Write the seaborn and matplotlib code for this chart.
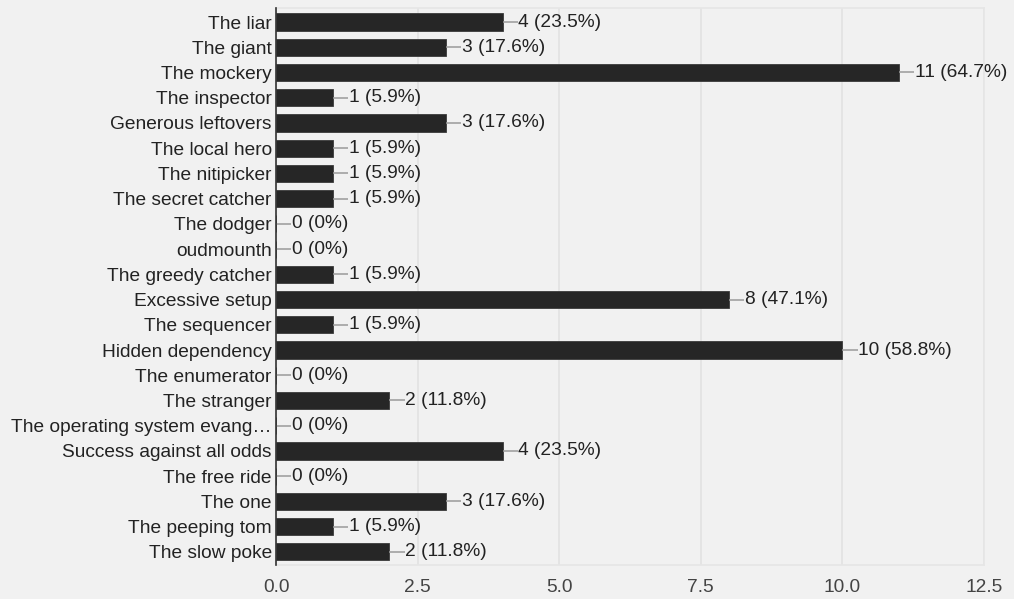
import matplotlib
matplotlib.use("Agg")
import matplotlib.pyplot as plt
import seaborn as sns
import pandas as pd

categories = [
    "The liar", "The giant", "The mockery", "The inspector", "Generous leftovers",
    "The local hero", "The nitipicker", "The secret catcher", "The dodger", "oudmounth",
    "The greedy catcher", "Excessive setup", "The sequencer", "Hidden dependency",
    "The enumerator", "The stranger", "The operating system evang\u2026",
    "Success against all odds", "The free ride", "The one", "The peeping tom",
    "The slow poke",
]
counts = [4, 3, 11, 1, 3, 1, 1, 1, 0, 0, 1, 8, 1, 10, 0, 2, 0, 4, 0, 3, 1, 2]
respondents = 17
x_ticks = [0.0, 2.5, 5.0, 7.5, 10.0, 12.5]

df = pd.DataFrame({"category": categories, "count": counts})

sns.set_theme(style="white")
plt.rcParams["font.family"] = ["Liberation Sans", "DejaVu Sans"]

FS = 13.8
BG = "#f1f1f1"
fig = plt.figure(figsize=(10.14, 5.99), dpi=100, facecolor=BG)
ax = fig.add_axes([0.2722, 0.0568, 0.6982, 0.9298])
ax.set_facecolor(BG)

sns.barplot(data=df, x="count", y="category", orient="h", color="#262626",
            width=0.68, saturation=1, ax=ax, zorder=3, edgecolor="#3a3a3a", linewidth=0.6)

ax.set_xlim(0, 12.5)
ax.set_ylim(len(categories) - 0.48, -0.555)
ax.set_xticks(x_ticks)
ax.set_xticklabels([f"{t:.1f}" for t in x_ticks])
ax.set_xlabel("")
ax.set_ylabel("")

ax.grid(axis="x", color="#e2e2e2", linewidth=1.2, zorder=0)
ax.grid(axis="y", visible=False)

for s in ["top", "bottom", "right"]:
    ax.spines[s].set_color("#e6e6e6")
    ax.spines[s].set_linewidth(1.2)
ax.spines["left"].set_color("#333333")
ax.spines["left"].set_linewidth(1.2)
ax.spines["left"].set_zorder(5)

ax.tick_params(axis="y", length=0, pad=3, labelsize=FS, labelcolor="#222222")
ax.tick_params(axis="x", length=0, pad=10, labelsize=FS, labelcolor="#444444")

lead = 0.27
for i, v in enumerate(counts):
    pct = v / respondents * 100
    pct_txt = "0%" if v == 0 else f"{pct:.1f}%"
    ax.plot([v, v + lead], [i, i], color="#9a9a9a", linewidth=1.1, zorder=4,
            solid_capstyle="butt")
    ax.text(v + lead + 0.01, i, f"{v} ({pct_txt})", va="center", ha="left",
            fontsize=FS, color="#222222", zorder=4, clip_on=False)

fig.savefig("out.png", dpi=100, facecolor=BG)
